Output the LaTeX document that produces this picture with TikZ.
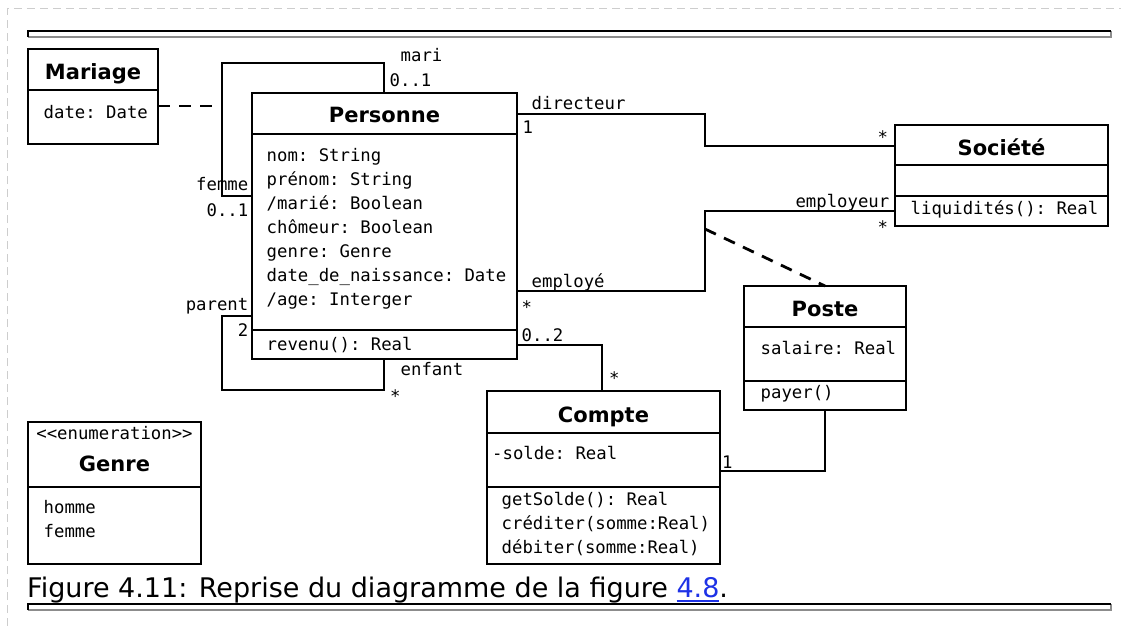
\documentclass[tikz,border=0pt]{standalone}
\usepackage{fontspec}
\setmainfont{DejaVu Sans}
\setmonofont{DejaVu Sans Mono}

\definecolor{rulegray}{RGB}{140,140,140}
\definecolor{framegray}{RGB}{205,205,205}
\definecolor{linkblue}{RGB}{30,50,230}

% underlined hyperlink-like text
\newsavebox\linkbox
\newcommand\linku[1]{\sbox\linkbox{#1}\rlap{\rule[-4.6pt]{\wd\linkbox}{1.6pt}}\usebox\linkbox}

\begin{document}
\begin{tikzpicture}[x=1pt,y=-1pt,
  umlbox/.style={draw, line width=2.8pt, inner sep=0pt, outer sep=0pt, anchor=north west},
  sep/.style={line width=2.8pt},
  assoc/.style={line width=2.8pt},
  dashedassoc/.style={line width=2.8pt, dash pattern=on 12pt off 9pt},
  attr/.style={font=\ttfamily\fontsize{17.3}{20}\selectfont, inner sep=0pt, anchor=base west},
  rolel/.style={attr, anchor=base west},
  roler/.style={attr, anchor=base east},
  classname/.style={font=\bfseries\fontsize{21}{24}\selectfont, inner sep=0pt, anchor=base},
  caption/.style={font=\fontsize{27}{30}\selectfont, inner sep=0pt, anchor=base west}
]
\useasboundingbox (0,0) rectangle (1121,626);

% page frame and horizontal rules
\draw[framegray, line width=1pt, dash pattern=on 8pt off 5pt] (7,626) -- (7,9) -- (1121,9);
\draw[rulegray, line width=2pt] (28,37) -- (1111,37) -- (1111,31);
\draw[black, line width=2pt] (28,37) -- (28,31) -- (1111,31);
\draw[rulegray, line width=2pt] (28,610) -- (1111,610) -- (1111,604);
\draw[black, line width=2pt] (28,610) -- (28,604) -- (1111,604);

% ---- Mariage
\node[umlbox, minimum width=130pt, minimum height=95pt] (mar) at (28,49) {};
\draw[sep] (mar.west |- 0,90) -- (mar.east |- 0,90);
\node[classname] (marT) at (93,79.5) {Mariage};
\node[attr] (marA) at (43.5,118.5) {date: Date};

% ---- Personne
\node[umlbox, minimum width=265pt, minimum height=266pt] (pers) at (252,93) {};
\draw[sep] (pers.west |- 0,134) -- (pers.east |- 0,134);
\draw[sep] (pers.west |- 0,330) -- (pers.east |- 0,330);
\node[classname] (persT) at (384.5,122.7) {Personne};
\node[attr] (persA1) at (266.5,161.5) {nom: String};
\node[attr] (persA2) at (266.5,185.5) {prénom: String};
\node[attr] (persA3) at (266.5,209.5) {/marié: Boolean};
\node[attr] (persA4) at (266.5,233.5) {chômeur: Boolean};
\node[attr] (persA5) at (266.5,257.5) {genre: Genre};
\node[attr] (persA6) at (266.5,281.5) {date\_de\_naissance: Date};
\node[attr] (persA7) at (266.5,305.5) {/age: Interger};
\node[attr] (persM1) at (266.5,350) {revenu(): Real};

% ---- Société
\node[umlbox, minimum width=213pt, minimum height=101pt] (soc) at (895,125) {};
\draw[sep] (soc.west |- 0,165) -- (soc.east |- 0,165);
\draw[sep] (soc.west |- 0,196) -- (soc.east |- 0,196);
\node[classname] (socT) at (1001.5,155) {Société};
\node[attr] (socM1) at (910.5,214.5) {liquidités(): Real};

% ---- Poste
\node[umlbox, minimum width=162pt, minimum height=124pt] (poste) at (744,286) {};
\draw[sep] (poste.west |- 0,327) -- (poste.east |- 0,327);
\draw[sep] (poste.west |- 0,381) -- (poste.east |- 0,381);
\node[classname] (posteT) at (825,316) {Poste};
\node[attr] (posteA1) at (760.5,354.5) {salaire: Real};
\node[attr] (posteM1) at (760.5,398.5) {payer()};

% ---- Compte
\node[umlbox, minimum width=233pt, minimum height=173pt] (compte) at (487,391) {};
\draw[sep] (compte.west |- 0,433) -- (compte.east |- 0,433);
\draw[sep] (compte.west |- 0,487) -- (compte.east |- 0,487);
\node[classname] (compteT) at (603.5,422) {Compte};
\node[attr] (compteA1) at (492,459.5) {-solde: Real};
\node[attr] (compteM1) at (501.5,505.5) {getSolde(): Real};
\node[attr] (compteM2) at (501.5,529.5) {créditer(somme:Real)};
\node[attr] (compteM3) at (501.5,553.5) {débiter(somme:Real)};

% ---- Genre (enumeration)
\node[umlbox, minimum width=173pt, minimum height=142pt] (genre) at (28,422) {};
\draw[sep] (genre.west |- 0,487) -- (genre.east |- 0,487);
\node[attr, anchor=base] (genreS) at (114.5,439.5) {\textless\textless enumeration\textgreater\textgreater};
\node[classname] (genreT) at (114.5,471) {Genre};
\node[attr] (genreL1) at (43.5,513.5) {homme};
\node[attr] (genreL2) at (43.5,537.5) {femme};

% ---- associations
% mari / femme (reflexive)
\draw[assoc] (pers.north -| 384,0) |- (222,63) |- (pers.west |- 0,196);
\coordinate (marLink) at (222,106);
\draw[dashedassoc] (mar.east |- marLink) -- (marLink);
\node[rolel] (lMari) at (400.5,62) {mari};
\node[rolel] (mMari) at (389.5,86) {0..1};
\node[roler] (lFemme) at (248.5,190) {femme};
\node[roler] (mFemme) at (248.5,216) {0..1};

% parent / enfant (reflexive)
\draw[assoc] (pers.west |- 0,316) -| (222,390) -| (pers.south -| 384,0);
\node[roler] (lParent) at (248.5,310.5) {parent};
\node[roler] (mParent) at (248.5,336.5) {2};
\node[rolel] (lEnfant) at (400.5,375) {enfant};
\node[rolel] (mEnfant) at (389.8,402) {*};

% directeur
\draw[assoc] (pers.east |- 0,114) -| (705,130) |- (soc.west |- 0,146);
\node[rolel] (lDir) at (531.5,109.5) {directeur};
\node[rolel] (mDir) at (522.3,133) {1};
\node[roler] (mDirSoc) at (888.2,143) {*};

% employé / employeur
\draw[assoc] (pers.east |- 0,291) -| (705,250) |- (soc.west |- 0,211);
\node[roler] (lEmployeur) at (889.5,207) {employeur};
\node[roler] (mEmployeur) at (888.2,233) {*};
\node[rolel] (lEmploye) at (531.5,287) {employé};
\node[rolel] (mEmploye) at (521.5,313) {*};
\coordinate (empLink) at (705,229);
\draw[dashedassoc] (empLink) -- (poste.north);

% Personne -- Compte
\draw[assoc] (pers.east |- 0,345) -| (compte.north -| 602,0);
\node[rolel] (mCptPers) at (521.5,341.5) {0..2};
\node[rolel] (mCpt) at (608.8,384) {*};

% Compte -- Poste
\draw[assoc] (compte.east |- 0,471) -| (poste.south);
\node[rolel] (mCptPoste) at (722,468.5) {1};

% caption
\node[caption] (cap) at (27,597) {Figure 4.11: Reprise du diagramme de la figure \textcolor{linkblue}{\linku{4.8}}.};
\end{tikzpicture}
\end{document}
